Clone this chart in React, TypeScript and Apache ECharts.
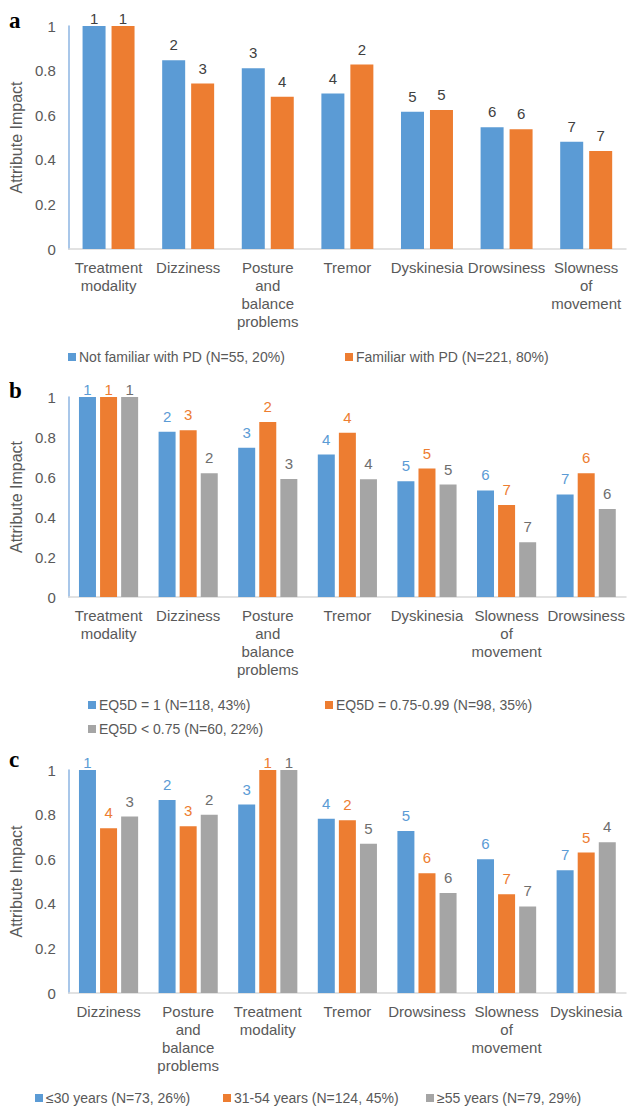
import React, { useEffect, useRef } from "react";
import * as echarts from "echarts";

const catsA = ["Treatment modality", "Dizziness", "Posture and balance problems", "Tremor", "Dyskinesia", "Drowsiness", "Slowness of movement"];
const catsB = ["Treatment modality", "Dizziness", "Posture and balance problems", "Tremor", "Dyskinesia", "Slowness of movement", "Drowsiness"];
const catsC = ["Dizziness", "Posture and balance problems", "Treatment modality", "Tremor", "Drowsiness", "Slowness of movement", "Dyskinesia"];

const aNames = ["Not familiar with PD (N=55, 20%)", "Familiar with PD (N=221, 80%)"];
const aVals = [
  [1, 0.846, 0.81, 0.697, 0.615, 0.546, 0.481],
  [1, 0.742, 0.683, 0.827, 0.623, 0.537, 0.44],
];
const aRanks = [
  [1, 2, 3, 4, 5, 6, 7],
  [1, 3, 4, 2, 5, 6, 7],
];

const bNames = ["EQ5D = 1 (N=118, 43%)", "EQ5D = 0.75-0.99 (N=98, 35%)", "EQ5D < 0.75 (N=60, 22%)"];
const bVals = [
  [1, 0.826, 0.746, 0.712, 0.579, 0.533, 0.513],
  [1, 0.834, 0.875, 0.821, 0.642, 0.46, 0.619],
  [1, 0.619, 0.59, 0.589, 0.562, 0.274, 0.44],
];
const bRanks = [
  [1, 2, 3, 4, 5, 6, 7],
  [1, 3, 2, 4, 5, 7, 6],
  [1, 2, 3, 4, 5, 7, 6],
];

const cNames = ["≤30 years (N=73, 26%)", "31-54 years (N=124, 45%)", "≥55 years (N=79, 29%)"];
const cVals = [
  [1, 0.866, 0.845, 0.781, 0.727, 0.6, 0.551],
  [0.739, 0.748, 1, 0.775, 0.537, 0.443, 0.63],
  [0.791, 0.799, 1, 0.669, 0.448, 0.388, 0.676],
];
const cRanks = [
  [1, 2, 3, 4, 5, 6, 7],
  [4, 3, 1, 2, 6, 7, 5],
  [3, 2, 1, 5, 6, 7, 4],
];

const yTicks = { min: 0, max: 1, interval: 0.2 };

const COLORS = ["#5B9BD5", "#ED7D31", "#A5A5A5"];
const LABEL_COLORS = ["#5B9BD5", "#ED7D31", "#6E6E6E"];
const FONT = "Liberation Sans";
const TXT = "#595959";

const panels = [
  { cats: catsA, names: aNames, vals: aVals, ranks: aRanks, top: 26, height: 223, barWidth: 23, barGap: "26%", colored: false, letter: "a", letterTop: 9 },
  { cats: catsB, names: bNames, vals: bVals, ranks: bRanks, top: 397, height: 200, barWidth: 17, barGap: "24%", colored: true, letter: "b", letterTop: 379 },
  { cats: catsC, names: cNames, vals: cVals, ranks: cRanks, top: 770, height: 223, barWidth: 17, barGap: "24%", colored: true, letter: "c", letterTop: 748 },
];

const legendPos = [
  [{ left: 68, top: 350 }, { left: 345, top: 350 }],
  [{ left: 88, top: 698 }, { left: 325, top: 698 }, { left: 88, top: 722 }],
  [{ left: 35, top: 1091 }, { left: 223, top: 1091 }, { left: 426, top: 1091 }],
];

export default function App() {
  const ref = useRef<HTMLDivElement>(null);
  useEffect(() => {
    if (!ref.current) return;
    const chart = echarts.init(ref.current, null, { renderer: "svg" });
    const grid: any[] = [];
    const xAxis: any[] = [];
    const yAxis: any[] = [];
    const series: any[] = [];
    const legend: any[] = [];
    const graphic: any[] = [];
    panels.forEach((p, pi) => {
      grid.push({ left: 66, right: 4, top: p.top, height: p.height, containLabel: false });
      xAxis.push({
        type: "category",
        gridIndex: pi,
        data: p.cats,
        axisTick: { show: false },
        axisLine: { lineStyle: { color: "#D9D9D9", width: 1.5 } },
        axisLabel: {
          interval: 0,
          margin: 9,
          color: TXT,
          fontFamily: FONT,
          fontSize: 15,
          lineHeight: 18,
          formatter: (v: string) => v.split(" ").join("\n"),
        },
      });
      yAxis.push({
        type: "value",
        gridIndex: pi,
        min: yTicks.min,
        max: yTicks.max,
        interval: yTicks.interval,
        splitLine: { show: false },
        axisTick: { show: false },
        axisLine: { show: true, lineStyle: { color: "#8DB4E2", width: 1.5 } },
        axisLabel: {
          margin: 13,
          color: TXT,
          fontFamily: FONT,
          fontSize: 15,
          formatter: (v: number) => String(+v.toFixed(1)),
        },
        name: "Attribute Impact",
        nameLocation: "middle",
        nameRotate: 90,
        nameGap: 40,
        nameTextStyle: { color: TXT, fontFamily: FONT, fontSize: 16 },
      });
      p.names.forEach((nm, si) => {
        const ranks = p.ranks[si];
        series.push({
          type: "bar",
          name: nm,
          xAxisIndex: pi,
          yAxisIndex: pi,
          barWidth: p.barWidth,
          barGap: p.barGap,
          itemStyle: { color: COLORS[si] },
          data: p.vals[si].map((v) => (v >= 1 ? { value: v, label: { distance: 0 } } : v)),
          label: {
            show: true,
            position: "top",
            distance: 8,
            color: p.colored ? LABEL_COLORS[si] : "#404040",
            fontFamily: FONT,
            fontSize: 15,
            formatter: (prm: any) => String(ranks[prm.dataIndex]),
          },
        });
        legend.push({
          data: [nm],
          left: legendPos[pi][si].left,
          top: legendPos[pi][si].top,
          icon: "rect",
          itemWidth: 8,
          itemHeight: 8,
          itemGap: 4,
          textStyle: { color: TXT, fontFamily: FONT, fontSize: 14, padding: [0, 0, 0, -2] },
          selectedMode: false,
          padding: 0,
        });
      });
      graphic.push({
        type: "text",
        left: 9,
        top: p.letterTop,
        style: { text: p.letter, fontFamily: "Liberation Serif", fontWeight: "bold", fontSize: 23, fill: "#000" },
      });
    });
    chart.setOption({
      animation: false,
      backgroundColor: "#fff",
      grid,
      xAxis,
      yAxis,
      series,
      legend,
      graphic,
    });
    return () => chart.dispose();
  }, []);
  return <div ref={ref} style={{ position: "absolute", left: 0, top: 0, width: 630, height: 1109 }} />;
}
